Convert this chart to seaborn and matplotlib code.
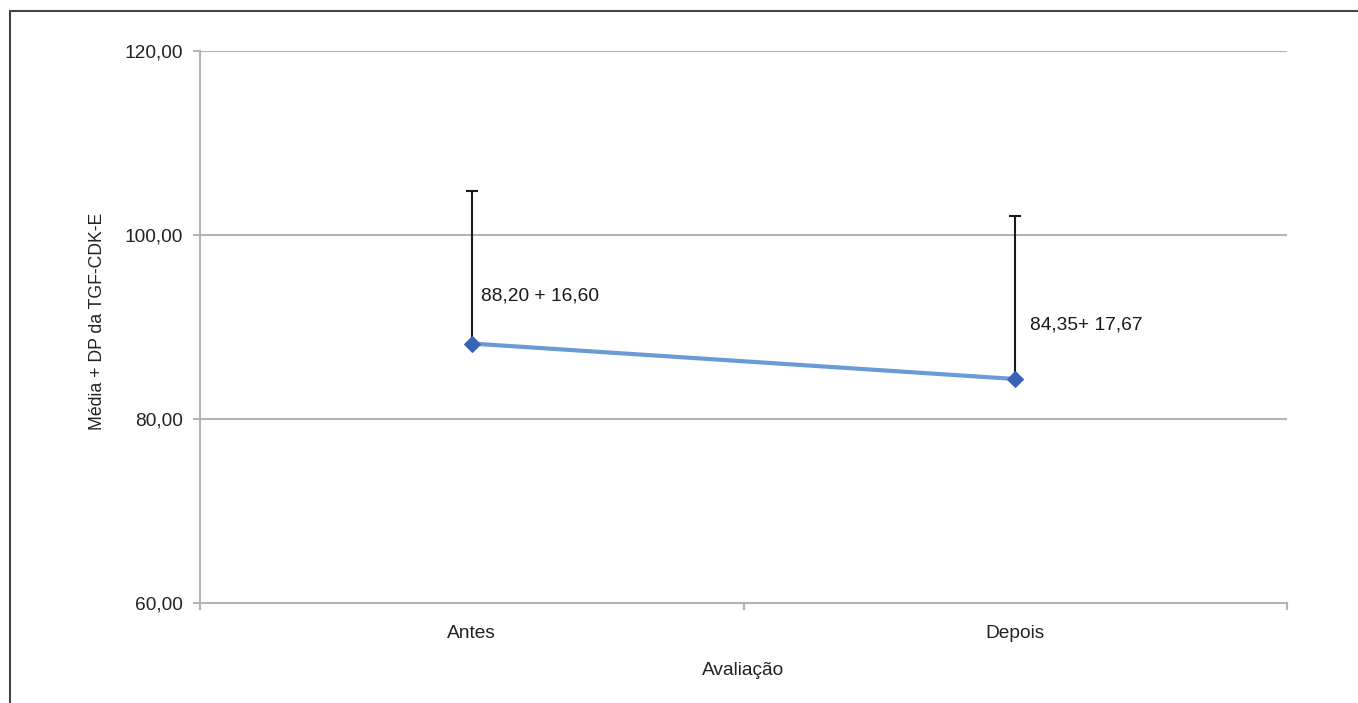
import matplotlib
matplotlib.use("Agg")
import matplotlib.pyplot as plt
from matplotlib.lines import Line2D
import seaborn as sns
import pandas as pd

categories = ["Antes", "Depois"]
means = [88.20, 84.35]
sds = [16.60, 17.67]
labels = ["88,20 + 16,60", "84,35+ 17,67"]
yticks = [60, 80, 100, 120]
ytick_labels = ["60,00", "80,00", "100,00", "120,00"]

sns.set_theme(style="white")
plt.rcParams['font.family'] = ['Liberation Sans', 'DejaVu Sans']

FS = 13.8
fig = plt.figure(figsize=(13.58, 7.03), dpi=100)
ax = fig.add_axes([200/1358, 1-603/703, 1087/1358, 552/703])

df = pd.DataFrame({"Avaliação": categories, "valor": means})
pos = list(range(len(categories)))

for y in yticks[1:]:
    ax.axhline(y, color="#b3b3b3", lw=1.5, zorder=0)

ax.errorbar(pos, means, yerr=[[0]*len(sds), sds], fmt="none", ecolor="#1a1a1a",
            elinewidth=1.5, capsize=4, capthick=1.5, zorder=2)

sns.lineplot(data=df, x="Avaliação", y="valor", ax=ax, color="#6a9bd6", lw=3,
             marker="D", markersize=8, markerfacecolor="#3a62b5",
             markeredgecolor="#3a62b5", zorder=3, sort=False)

ax.set_xlim(-0.5, len(categories) - 0.5)
ax.set_ylim(60, 120)
ax.set_yticks(yticks)
ax.set_yticklabels(ytick_labels, fontsize=FS, color="#222222")
ax.set_xticks(pos)
ax.set_xticklabels(categories, fontsize=FS, color="#222222")
ax.tick_params(axis="x", which="major", bottom=False, length=0, pad=16)
ax.tick_params(axis="y", which="major", left=True, length=5, width=1.5,
               color="#b3b3b3", direction="out", pad=7)

# boundary tick marks
ax.set_xticks([-0.5, 0.5, 1.5], minor=True)
ax.tick_params(axis="x", which="minor", bottom=True, length=5, color="#b3b3b3",
               width=1.5, direction="out")

for s in ["top", "right"]:
    ax.spines[s].set_visible(False)
for s in ["left", "bottom"]:
    ax.spines[s].set_color("#b3b3b3")
    ax.spines[s].set_linewidth(1.5)

ax.set_xlabel("Avaliação", fontsize=FS, color="#222222", labelpad=14)
ax.set_ylabel("Média + DP da TGF-CDK-E", fontsize=12.7, color="#222222")
ax.yaxis.set_label_coords(-0.0865, 0.51)

offsets = [(0.017, 5.2), (0.028, 5.85)]
for i, (lab, (dx, dy)) in enumerate(zip(labels, offsets)):
    ax.text(pos[i] + dx, means[i] + dy, lab, fontsize=FS, color="#1a1a1a",
            ha="left", va="center")

# outer frame (cut off at right and bottom)
fig.add_artist(Line2D([10/1358, 1], [1-11/703, 1-11/703], color="#444444", lw=1.5,
                      transform=fig.transFigure))
fig.add_artist(Line2D([10/1358, 10/1358], [0, 1-11/703], color="#444444", lw=1.5,
                      transform=fig.transFigure))

fig.savefig("out.png", dpi=100)
